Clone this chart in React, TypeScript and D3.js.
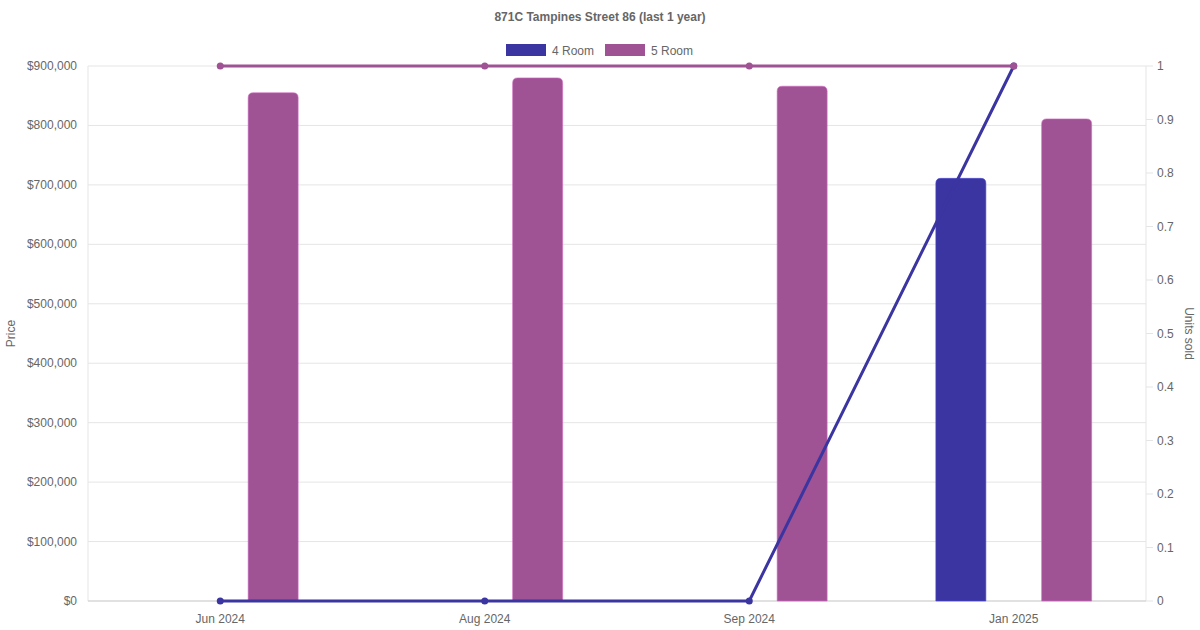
import React from "react";
import * as d3 from "d3";

const categories = ["Jun 2024", "Aug 2024", "Sep 2024", "Jan 2025"];
const series = ["4 Room", "5 Room"];
const colors = ["#3a35a0", "#9f5294"];
const price4Room: (number | null)[] = [null, null, null, 711000];
const price5Room: (number | null)[] = [855000, 880000, 866000, 811000];
const units4Room = [0, 0, 0, 1];
const units5Room = [1, 1, 1, 1];
const leftTicks = [0, 100000, 200000, 300000, 400000, 500000, 600000, 700000, 800000, 900000];
const rightTicks = [0, 0.1, 0.2, 0.3, 0.4, 0.5, 0.6, 0.7, 0.8, 0.9, 1];

const W = 1200, H = 630;
const M = { left: 88, right: 1146, top: 66, bottom: 601 };
const FONT = "'Liberation Sans', Arial, Helvetica, sans-serif";
const TXT = "#666";

export default function App() {
  const x = d3.scaleBand<string>().domain(categories).range([M.left, M.right]).padding(0);
  const sub = d3.scaleBand<string>().domain(series).range([0, x.bandwidth()]).paddingOuter(0.1 / 0.8 * 0 ).padding(0);
  const catW = x.bandwidth();
  const inner = catW * 0.8;
  const slot = inner / series.length;
  const barW = Math.min(50, slot * 0.9);
  const yL = d3.scaleLinear().domain([0, 900000]).range([M.bottom, M.top]);
  const yR = d3.scaleLinear().domain([0, 1]).range([M.bottom, M.top]);
  const fmt = (v: number) => "$" + d3.format(",")(v);
  const priceSeries = [price4Room, price5Room];
  const unitSeries = [units4Room, units5Room];
  const cx = (c: string) => (x(c) as number) + catW / 2;
  const line = d3.line<number>().x((_, i) => cx(categories[i])).y((d) => yR(d));
  void sub;

  const roundedTop = (x0: number, y0: number, w: number, h: number, r: number) => {
    const rr = Math.min(r, h, w / 2);
    return `M${x0},${y0 + h}V${y0 + rr}Q${x0},${y0} ${x0 + rr},${y0}H${x0 + w - rr}Q${x0 + w},${y0} ${x0 + w},${y0 + rr}V${y0 + h}Z`;
  };

  return (
    <svg width={W} height={H} style={{ position: "absolute", left: 0, top: 0, background: "#fff" }} fontFamily={FONT}>
      <rect width={W} height={H} fill="#fff" />
      <text x={W / 2} y={21} textAnchor="middle" fontSize={12} fontWeight="bold" fill={TXT}>
        871C Tampines Street 86 (last 1 year)
      </text>
      {/* legend */}
      {series.map((s, i) => {
        const lx = [506, 605][i];
        return (
          <g key={s}>
            <rect x={lx} y={44} width={40} height={12} fill={colors[i]} />
            <text x={lx + 46} y={54.5} fontSize={12} fill={TXT}>{s}</text>
          </g>
        );
      })}
      {/* left grid + labels */}
      {leftTicks.map((t) => (
        <g key={t}>
          <line x1={M.left} x2={M.right} y1={yL(t)} y2={yL(t)} stroke="#e5e5e5" strokeWidth={1} />
          <text x={M.left - 11} y={yL(t) + 4} textAnchor="end" fontSize={12} fill={TXT}>{fmt(t)}</text>
        </g>
      ))}
      <line x1={M.left} x2={M.left} y1={M.top} y2={M.bottom} stroke="#e5e5e5" />
      <line x1={M.right} x2={M.right} y1={M.top} y2={M.bottom} stroke="#e5e5e5" />
      <line x1={M.left} x2={M.right} y1={M.bottom} y2={M.bottom} stroke="#d0d0d0" />
      {/* right ticks */}
      {rightTicks.map((t) => (
        <g key={t}>
          <line x1={M.right} x2={M.right + 7} y1={yR(t)} y2={yR(t)} stroke="#e5e5e5" />
          <text x={M.right + 11} y={yR(t) + 4} fontSize={12} fill={TXT}>{d3.format("~g")(t)}</text>
        </g>
      ))}
      {/* x labels */}
      {categories.map((c) => (
        <text key={c} x={cx(c)} y={M.bottom + 22} textAnchor="middle" fontSize={12} fill={TXT}>{c}</text>
      ))}
      {/* axis titles */}
      <text transform={`translate(15,${(M.top + M.bottom) / 2}) rotate(-90)`} textAnchor="middle" fontSize={12} fill={TXT}>Price</text>
      <text transform={`translate(1185,${(M.top + M.bottom) / 2}) rotate(90)`} textAnchor="middle" fontSize={12} fill={TXT}>Units sold</text>
      {/* bars */}
      {priceSeries.map((arr, si) =>
        arr.map((v, ci) => {
          if (v == null) return null;
          const c = categories[ci];
          const center = (x(c) as number) + (catW - inner) / 2 + slot * si + slot / 2;
          const top = yL(v);
          return (
            <path key={`${si}-${ci}`} d={roundedTop(center - barW / 2, top, barW, M.bottom - top, 5)}
              fill={colors[si]} stroke={d3.color(colors[si])!.brighter(0.8).formatHex()} strokeOpacity={0.6} strokeWidth={1} />
          );
        })
      )}
      {/* lines */}
      {unitSeries.map((arr, si) => (
        <g key={si}>
          <path d={line(arr) || ""} fill="none" stroke={colors[si]} strokeWidth={3} />
          {arr.map((v, i) => (
            <circle key={i} cx={cx(categories[i])} cy={yR(v)} r={3.5} fill={colors[si]} />
          ))}
        </g>
      ))}
    </svg>
  );
}
